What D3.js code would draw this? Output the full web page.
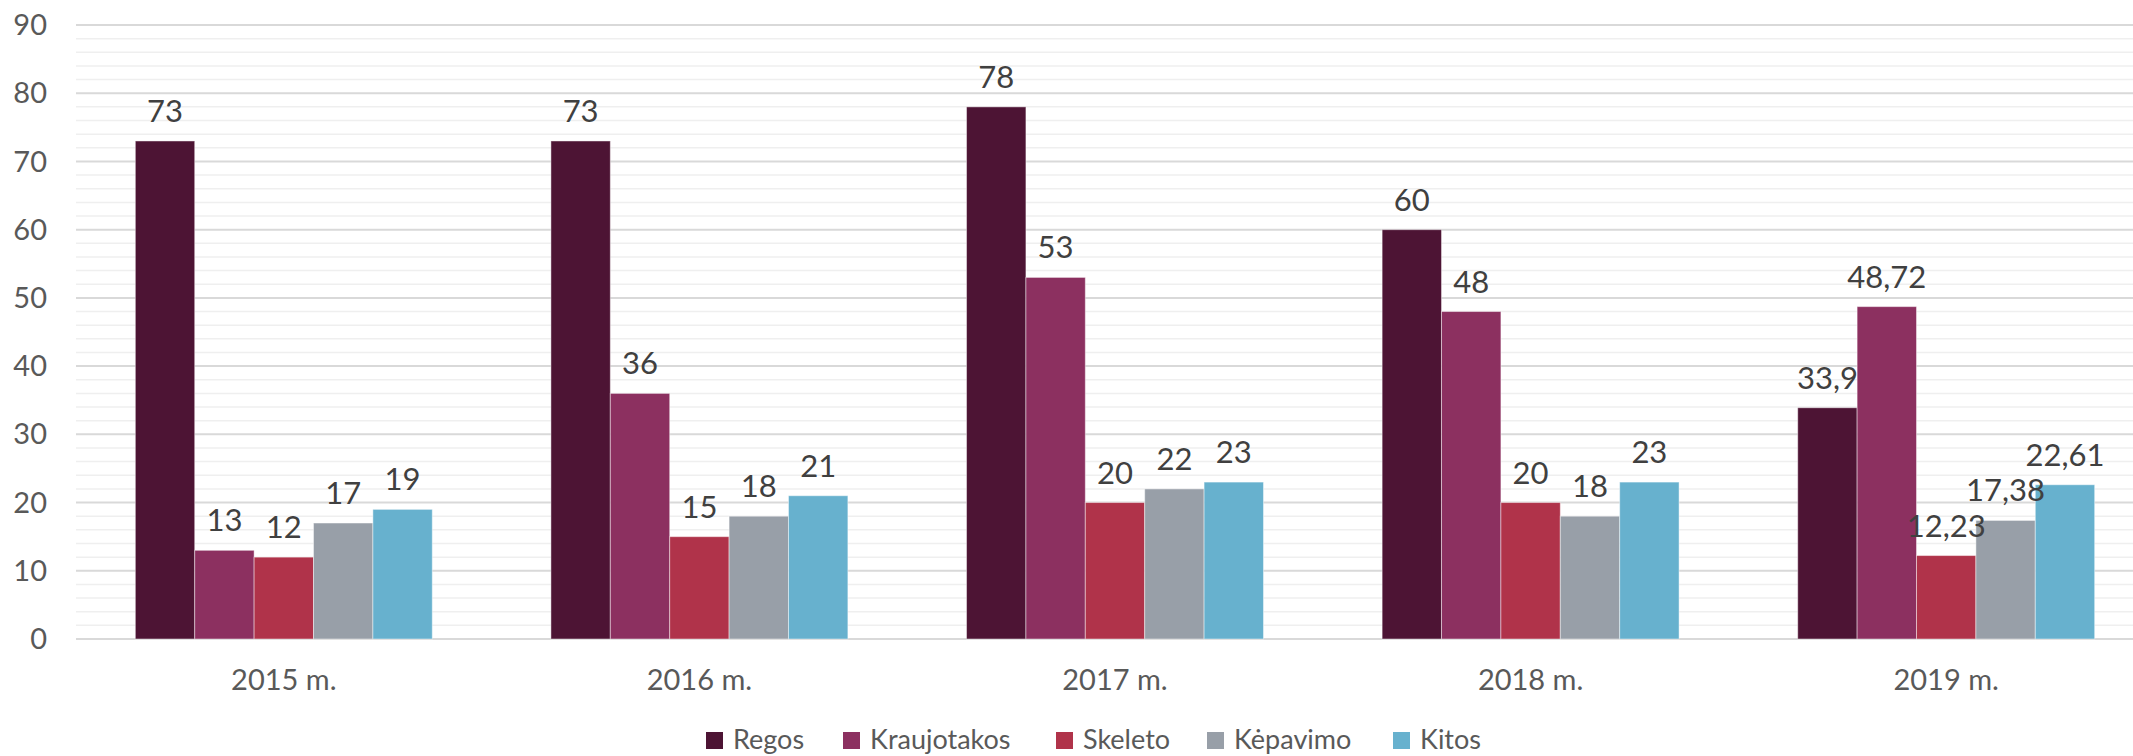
<!DOCTYPE html>
<html>
<head>
<meta charset="utf-8">
<script src="https://cdn.jsdelivr.net/npm/d3@7"></script>
<style>
  body { margin: 0; background: #fff; }
  text { font-family: Lato, "Open Sans", sans-serif; }
</style>
</head>
<body>
<div id="chart"></div>
<script>
const years = ["2015 m.", "2016 m.", "2017 m.", "2018 m.", "2019 m."];
const seriesNames = ["Regos", "Kraujotakos", "Skeleto", "Kėpavimo", "Kitos"];
const regos = [73, 73, 78, 60, 33.9];
const kraujotakos = [13, 36, 53, 48, 48.72];
const skeleto = [12, 15, 20, 20, 12.23];
const kepavimo = [17, 18, 22, 18, 17.38];
const kitos = [19, 21, 23, 23, 22.61];
const yTicks = [0, 10, 20, 30, 40, 50, 60, 70, 80, 90];

const colors = ["#4d1434", "#8c3060", "#b0334a", "#989fa8", "#67b1ce"];
const allSeries = [regos, kraujotakos, skeleto, kepavimo, kitos];

const width = 2133, height = 756;
const plotLeft = 76, plotRight = 2154, plotTop = 25, plotBottom = 639;

const svg = d3.select("#chart").append("svg")
  .attr("width", width)
  .attr("height", height);

const x = d3.scaleBand()
  .domain(years)
  .range([plotLeft, plotRight])
  .paddingInner(0.2855)
  .paddingOuter(0.2855 / 2);

const xs = d3.scaleBand()
  .domain(seriesNames)
  .range([0, x.bandwidth()]);

const y = d3.scaleLinear().domain([0, 90]).range([plotBottom, plotTop]);

// minor grid
svg.append("g")
  .selectAll("line")
  .data(d3.range(0, 91, 2).filter(v => v % 10 !== 0))
  .enter().append("line")
  .attr("x1", plotLeft).attr("x2", plotRight)
  .attr("y1", d => y(d)).attr("y2", d => y(d))
  .attr("stroke", "#efefef")
  .attr("stroke-width", 1.5);

// major grid
svg.append("g")
  .selectAll("line")
  .data(yTicks)
  .enter().append("line")
  .attr("x1", plotLeft).attr("x2", plotRight)
  .attr("y1", d => y(d)).attr("y2", d => y(d))
  .attr("stroke", "#d9d9d9")
  .attr("stroke-width", 2);

// y labels
svg.append("g")
  .selectAll("text")
  .data(yTicks)
  .enter().append("text")
  .attr("x", 47)
  .attr("y", d => y(d))
  .attr("dy", "0.35em")
  .style("text-anchor", "end")
  .style("font-size", "29px")
  .style("fill", "#595959")
  .text(d => d);

// bars
const groups = svg.selectAll(".grp")
  .data(years)
  .enter().append("g")
  .attr("class", "grp")
  .attr("transform", d => "translate(" + x(d) + ",0)");

groups.selectAll("rect")
  .data((yr, i) => seriesNames.map((s, j) => ({s: s, v: allSeries[j][i], c: colors[j]})))
  .enter().append("rect")
  .attr("x", d => xs(d.s))
  .attr("width", xs.bandwidth())
  .attr("y", d => y(d.v))
  .attr("height", d => y(0) - y(d.v))
  .attr("fill", d => d.c)
  .attr("stroke", "rgba(255,255,255,0.45)")
  .attr("stroke-width", 1);

// value labels
groups.selectAll(".lbl")
  .data((yr, i) => seriesNames.map((s, j) => ({s: s, v: allSeries[j][i]})))
  .enter().append("text")
  .attr("class", "lbl")
  .attr("x", d => xs(d.s) + xs.bandwidth() / 2)
  .attr("y", d => y(d.v) - 19)
  .style("text-anchor", "middle")
  .style("font-size", "31px")
  .style("fill", "#404040")
  .text(d => String(d.v).replace(".", ","));

// x labels
svg.append("g")
  .selectAll("text")
  .data(years)
  .enter().append("text")
  .attr("x", d => x(d) + x.bandwidth() / 2)
  .attr("y", 690)
  .style("text-anchor", "middle")
  .style("font-size", "29px")
  .style("fill", "#595959")
  .text(d => d);

// legend
const legendX = [706, 843, 1056, 1207, 1393];
const legend = svg.append("g");
seriesNames.forEach((s, i) => {
  legend.append("rect")
    .attr("x", legendX[i])
    .attr("y", 732)
    .attr("width", 17)
    .attr("height", 17)
    .attr("fill", colors[i]);
  legend.append("text")
    .attr("x", legendX[i] + 27)
    .attr("y", 749)
    .style("font-size", "27px")
    .style("fill", "#595959")
    .text(s);
});
</script>
</body>
</html>
